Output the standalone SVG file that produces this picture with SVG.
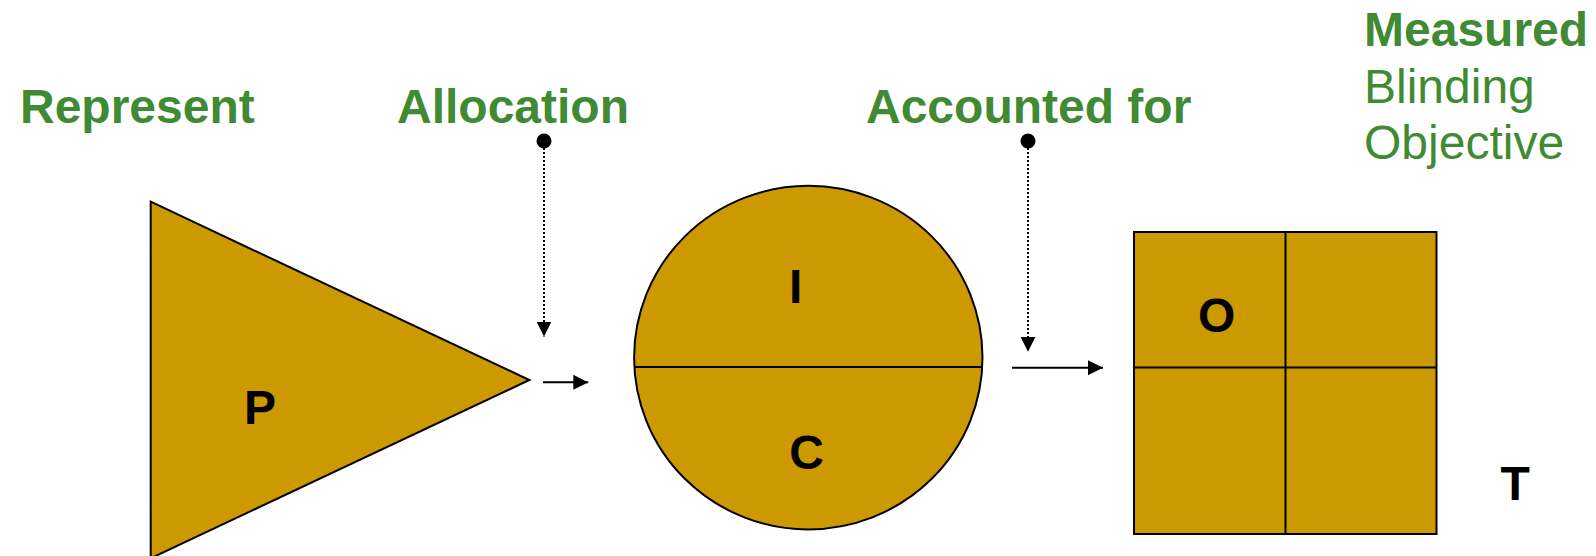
<svg xmlns="http://www.w3.org/2000/svg" width="1596" height="556" viewBox="0 0 1596 556">
<style>
.shape{fill:#CC9900;stroke:#000;stroke-width:2}
.div{stroke:#000;stroke-width:2;fill:none}
.lbl{font-family:"Liberation Sans",Arial,sans-serif;font-size:48px;font-weight:bold;fill:#000}
.g{font-family:"Liberation Sans",Arial,sans-serif;font-size:48px;fill:#3F8A33}
.b{font-weight:bold}
.arr{stroke:#000;stroke-width:2;fill:none;marker-end:url(#ah)}
.dot{stroke:#000;stroke-width:2;stroke-dasharray:2 2;fill:none;marker-end:url(#ah)}
</style>
<defs>
<marker id="ah" markerUnits="userSpaceOnUse" markerWidth="15" markerHeight="15" refX="15" refY="7.5" orient="auto">
<path d="M0,0 L15,7.5 L0,15 Z" fill="#000"/>
</marker>
</defs>
<rect width="1596" height="556" fill="#fff"/>
<g id="label-represent"><text class="g b" x="20" y="123">Represent</text></g>
<g id="label-allocation"><text class="g b" x="397" y="123">Allocation</text></g>
<g id="label-accounted"><text class="g b" x="866" y="123">Accounted for</text></g>
<g id="label-measured">
<text class="g b" x="1364" y="46">Measured</text>
<text class="g" x="1364" y="103">Blinding</text>
<text class="g" x="1364" y="159">Objective</text>
</g>
<g id="node-P">
<polygon class="shape" points="150.7,201.7 529.3,380 150.7,558.3"/>
<text class="lbl" x="244" y="424">P</text>
</g>
<g id="node-IC">
<ellipse class="shape" cx="808.3" cy="357.6" rx="174.2" ry="171.8"/>
<line class="div" x1="634.2" y1="367" x2="982.4" y2="367"/>
<text class="lbl" x="789" y="302.7">I</text>
<text class="lbl" x="789.3" y="469">C</text>
</g>
<g id="node-O">
<rect class="shape" x="1134" y="232" width="302.5" height="302"/>
<line class="div" x1="1285.5" y1="232" x2="1285.5" y2="534"/>
<line class="div" x1="1134" y1="367.5" x2="1436.5" y2="367.5"/>
<text class="lbl" x="1198" y="332">O</text>
</g>
<g id="node-T"><text class="lbl" x="1500.5" y="500">T</text></g>
<g id="connectors">
<circle cx="544" cy="141" r="7.5" fill="#000"/>
<line class="dot" x1="544" y1="148" x2="544" y2="336.5"/>
<circle cx="1028" cy="141" r="7.5" fill="#000"/>
<line class="dot" x1="1028" y1="148" x2="1028" y2="351.7"/>
<line class="arr" x1="543" y1="382.3" x2="588.3" y2="382.3"/>
<line class="arr" x1="1012" y1="367.7" x2="1103" y2="367.7"/>
</g>
</svg>
